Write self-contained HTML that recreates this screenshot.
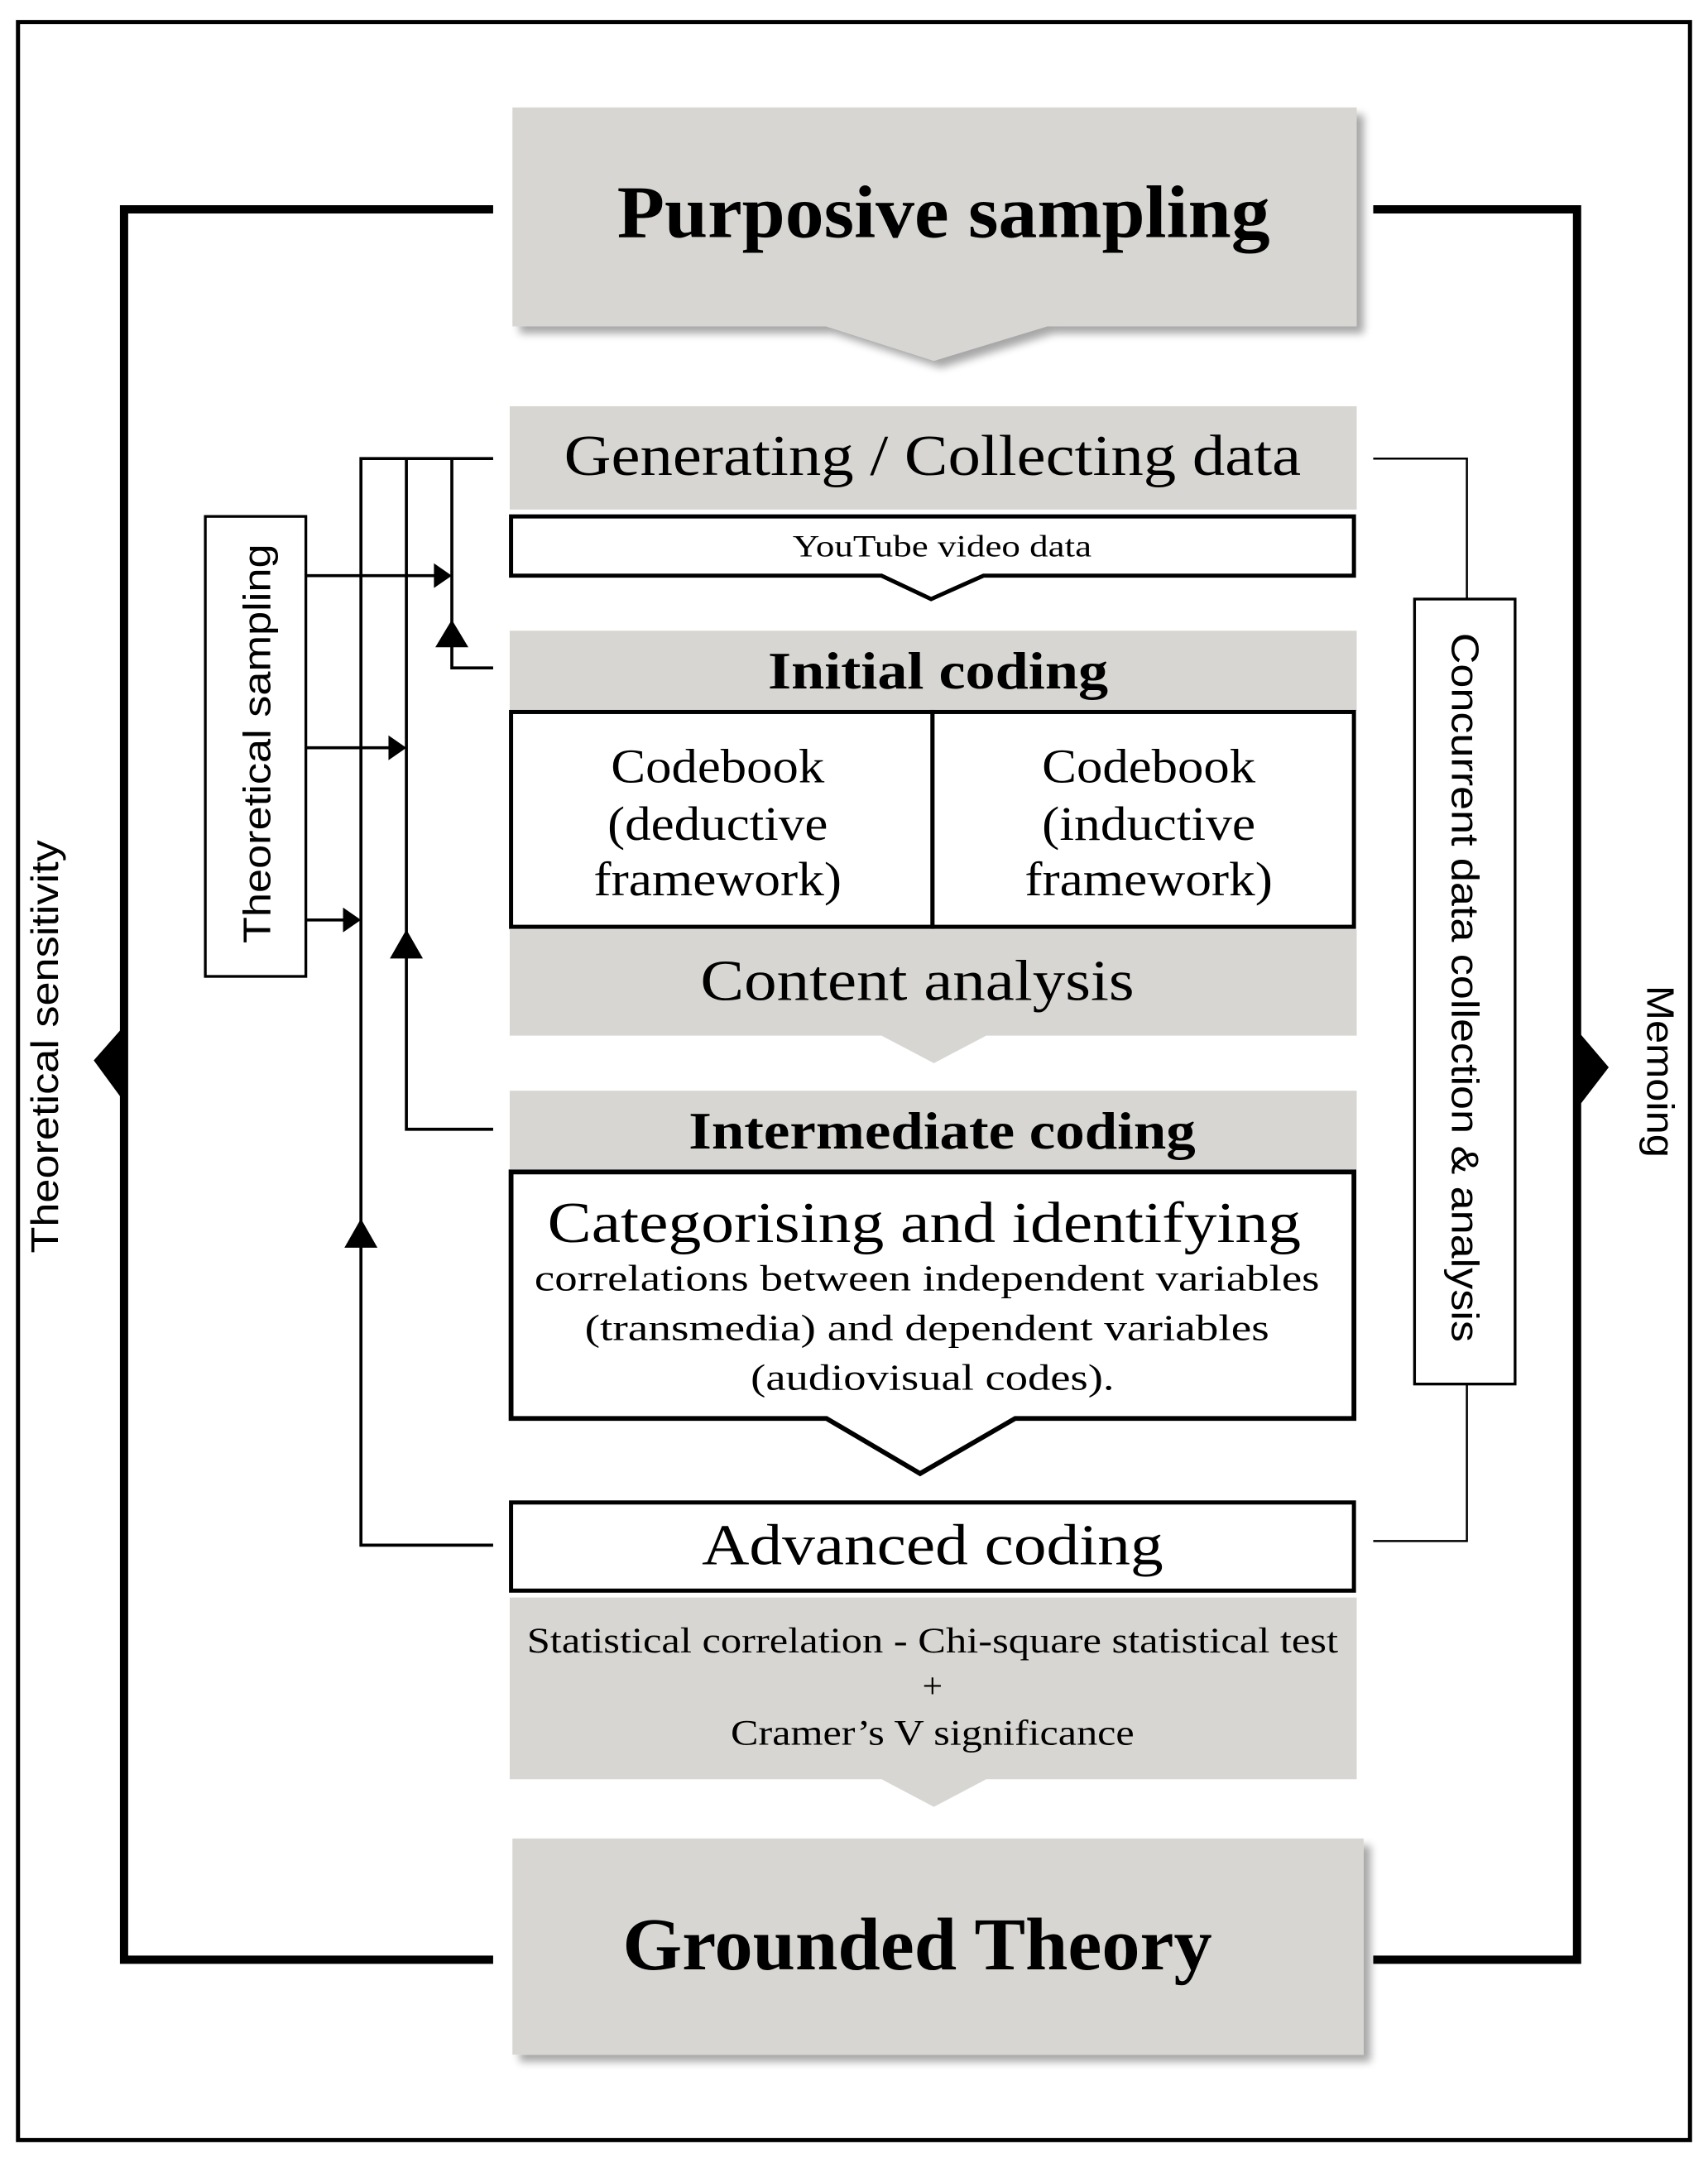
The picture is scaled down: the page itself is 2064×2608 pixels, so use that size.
<!DOCTYPE html>
<html><head><meta charset="utf-8"><style>
html,body{margin:0;padding:0;background:#fff}
svg{display:block}
.s{font-family:"Liberation Serif",serif}
.a{font-family:"Liberation Sans",sans-serif}
</style></head><body>
<svg width="2064" height="2608" viewBox="0 0 1240 1567" xmlns="http://www.w3.org/2000/svg">
<defs>
<filter id="sh" x="-5%" y="-5%" width="115%" height="130%">
<feGaussianBlur in="SourceAlpha" stdDeviation="3"/>
<feOffset dx="5" dy="5"/>
<feComponentTransfer><feFuncA type="linear" slope="0.35"/></feComponentTransfer>
<feMerge><feMergeNode/><feMergeNode in="SourceGraphic"/></feMerge>
</filter>
</defs>
<rect x="0" y="0" width="1240" height="1567" fill="#fff"/>
<rect x="13" y="16" width="1214" height="1538" fill="none" stroke="#000" stroke-width="3"/>

<polyline points="358,152 90,152 90,1423 358,1423" fill="none" stroke="#000" stroke-width="6"/>
<polyline points="997,152 1145,152 1145,1423 997,1423" fill="none" stroke="#000" stroke-width="6"/>
<polygon points="90,745 68,770 90,800" fill="#000"/>
<polygon points="1145,748 1168,775 1145,805" fill="#000"/>
<text class="a" transform="translate(42,760) rotate(-90)" text-anchor="middle" font-size="28" textLength="300" lengthAdjust="spacingAndGlyphs">Theoretical sensitivity</text>
<text class="a" transform="translate(1196,778) rotate(90)" text-anchor="middle" font-size="28" textLength="125" lengthAdjust="spacingAndGlyphs">Memoing</text>

<g filter="url(#sh)">
<path d="M372,78 H985 V237 H760 L678,262 L600,237 H372 Z" fill="#d7d6d2"/>
</g>
<text class="s" x="685" y="172" text-anchor="middle" font-size="54" font-weight="bold" textLength="474" lengthAdjust="spacingAndGlyphs">Purposive sampling</text>

<rect x="370" y="295" width="615" height="75" fill="#d7d6d2"/>
<text class="s" x="677" y="345" text-anchor="middle" font-size="42" textLength="535" lengthAdjust="spacingAndGlyphs">Generating / Collecting data</text>
<path d="M371,375 H983 V418 H714 L676,435 L640,418 H371 Z" fill="#fff" stroke="#000" stroke-width="3"/>
<text class="s" x="684" y="404" text-anchor="middle" font-size="22" textLength="217" lengthAdjust="spacingAndGlyphs">YouTube video data</text>

<rect x="370" y="458" width="615" height="58" fill="#d7d6d2"/>
<text class="s" x="681" y="500" text-anchor="middle" font-size="38" font-weight="bold" textLength="247" lengthAdjust="spacingAndGlyphs">Initial coding</text>
<rect x="371" y="517" width="306" height="156" fill="#fff" stroke="#000" stroke-width="3"/>
<rect x="677" y="517" width="306" height="156" fill="#fff" stroke="#000" stroke-width="3"/>
<g class="s" font-size="35" text-anchor="middle" lengthAdjust="spacingAndGlyphs">
<text x="521" y="568" textLength="155" lengthAdjust="spacingAndGlyphs">Codebook</text><text x="521" y="610" textLength="160" lengthAdjust="spacingAndGlyphs">(deductive</text><text x="521" y="650" textLength="180" lengthAdjust="spacingAndGlyphs">framework)</text>
<text x="834" y="568" textLength="155" lengthAdjust="spacingAndGlyphs">Codebook</text><text x="834" y="610" textLength="155" lengthAdjust="spacingAndGlyphs">(inductive</text><text x="834" y="650" textLength="180" lengthAdjust="spacingAndGlyphs">framework)</text>
</g>
<path d="M370,675 H985 V752 H716 L678,772 L640,752 H370 Z" fill="#d7d6d2"/>
<text class="s" x="666" y="726" text-anchor="middle" font-size="42" textLength="315" lengthAdjust="spacingAndGlyphs">Content analysis</text>

<rect x="370" y="792" width="615" height="57" fill="#d7d6d2"/>
<text class="s" x="684" y="834" text-anchor="middle" font-size="38" font-weight="bold" textLength="368" lengthAdjust="spacingAndGlyphs">Intermediate coding</text>
<path d="M371,851 H983 V1030 H737 L668,1070 L600,1030 H371 Z" fill="#fff" stroke="#000" stroke-width="3.5"/>
<text class="s" x="671" y="902" text-anchor="middle" font-size="42" textLength="547" lengthAdjust="spacingAndGlyphs">Categorising and identifying</text>
<g class="s" font-size="27" text-anchor="middle">
<text x="673" y="937" textLength="570" lengthAdjust="spacingAndGlyphs">correlations between independent variables</text>
<text x="673" y="973" textLength="497" lengthAdjust="spacingAndGlyphs">(transmedia) and dependent variables</text>
<text x="677" y="1009" textLength="264" lengthAdjust="spacingAndGlyphs">(audiovisual codes).</text>
</g>

<rect x="371" y="1091" width="612" height="64" fill="#fff" stroke="#000" stroke-width="3"/>
<text class="s" x="677" y="1136" text-anchor="middle" font-size="42" textLength="335" lengthAdjust="spacingAndGlyphs">Advanced coding</text>
<path d="M370,1160 H985 V1292 H716 L678,1312 L640,1292 H370 Z" fill="#d7d6d2"/>
<g class="s" font-size="26" text-anchor="middle">
<text x="677" y="1200" textLength="589" lengthAdjust="spacingAndGlyphs">Statistical correlation - Chi-square statistical test</text>
<text x="677" y="1233">+</text>
<text x="677" y="1267" textLength="293" lengthAdjust="spacingAndGlyphs">Cramer’s V significance</text>
</g>

<g filter="url(#sh)"><rect x="372" y="1335" width="618" height="157" fill="#d7d6d2"/></g>
<text class="s" x="666" y="1430" text-anchor="middle" font-size="54" font-weight="bold" textLength="428" lengthAdjust="spacingAndGlyphs">Grounded Theory</text>

<rect x="149" y="375" width="73" height="334" fill="#fff" stroke="#000" stroke-width="2"/>
<text class="a" transform="translate(196,540) rotate(-90)" text-anchor="middle" font-size="28" textLength="290" lengthAdjust="spacingAndGlyphs">Theoretical sampling</text>

<g stroke="#000" stroke-width="2.2" fill="none">
<polyline points="358,333 262,333 262,1122 358,1122"/>
<polyline points="295,333 295,820 358,820"/>
<polyline points="328,333 328,485 358,485"/>
<line x1="222" y1="418" x2="318" y2="418"/>
<line x1="222" y1="543" x2="285" y2="543"/>
<line x1="222" y1="668" x2="252" y2="668"/>
</g>
<g fill="#000">
<polygon points="315,409 328,418 315,427"/>
<polygon points="282,534 295,543 282,552"/>
<polygon points="249,659 262,668 249,677"/>
<polygon points="316,470 328,450 340,470"/>
<polygon points="283,696 295,675 307,696"/>
<polygon points="250,906 262,885 274,906"/>
</g>

<g stroke="#000" stroke-width="1.5" fill="none">
<polyline points="997,333 1065,333 1065,435"/>
<polyline points="1065,1005 1065,1119 997,1119"/>
</g>
<rect x="1027" y="435" width="73" height="570" fill="#fff" stroke="#000" stroke-width="2"/>
<text class="a" transform="translate(1054,717) rotate(90)" text-anchor="middle" font-size="28" textLength="515" lengthAdjust="spacingAndGlyphs">Concurrent data collection &amp; analysis</text>
</svg>
</body></html>
